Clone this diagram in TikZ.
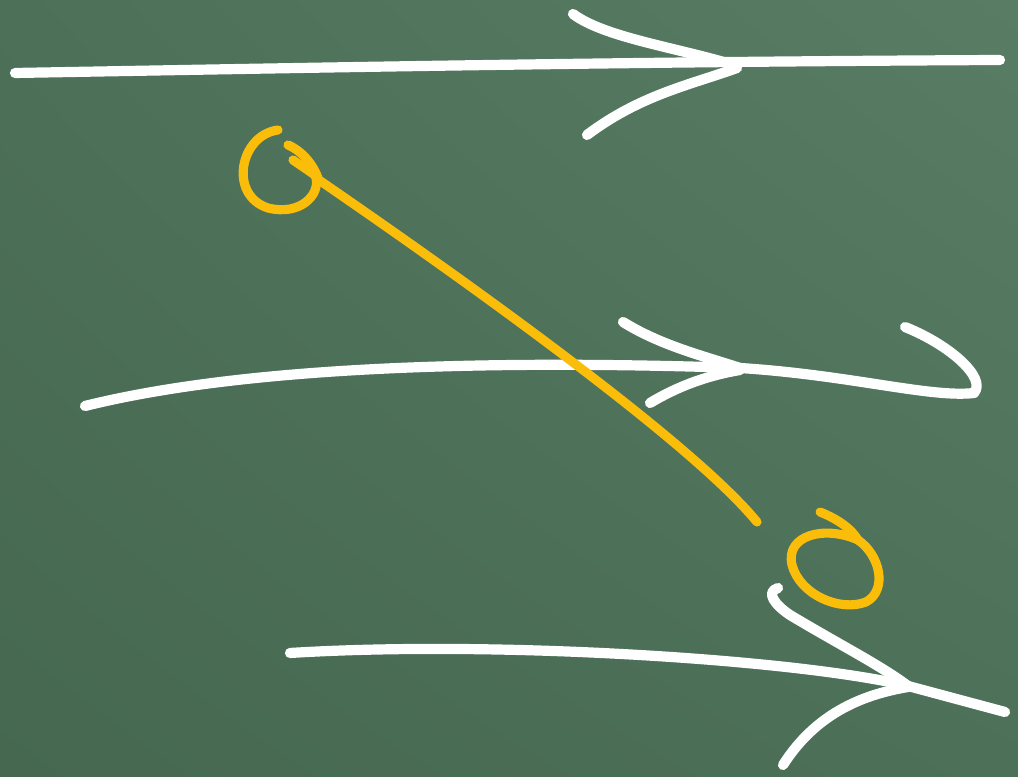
\documentclass[tikz,border=0pt]{standalone}
\usepackage{xcolor}
\usepackage{tikz}
\usetikzlibrary{shadings}
\definecolor{boarddark}{RGB}{70,104,80}
\definecolor{boardlight}{RGB}{88,124,100}
\definecolor{boardmid}{RGB}{77,112,88}
\definecolor{chalkyellow}{RGB}{250,190,10}

\begin{document}
\begin{tikzpicture}[
    x=0.01cm, y=-0.01cm,
    chalk/.style={draw=white, line width=2.9pt, line cap=round, line join=round},
    crayon/.style={draw=chalkyellow, line width=2.6pt, line cap=round, line join=round},
]

% board
\shade[upper left=boardmid, upper right=boardlight, lower left=boarddark, lower right=boardmid]
    (0,0) rectangle (1018,777);
\useasboundingbox (0,0) rectangle (1018,777);

% top arrow
\draw[chalk] (15,73) .. controls (300,68) and (600,62) .. (1000,60);
\draw[chalk] (573,14) .. controls (605,38) and (680,48) .. (737,66);
\draw[chalk] (587,135) .. controls (640,95) and (690,85) .. (737,68);

% middle arrow with hook
\draw[chalk] (85,406) .. controls (250,365) and (500,360) .. (740,368)
    .. controls (850,375) and (930,398) .. (974,393)
    .. controls (987,378) and (950,345) .. (905,327);
\draw[chalk] (623,322) .. controls (660,345) and (700,355) .. (740,368);
\draw[chalk] (650,403) .. controls (680,385) and (710,375) .. (740,370);

% bottom arrow
\draw[chalk] (290,653) .. controls (500,640) and (800,660) .. (908,686)
    -- (1005,712);
\draw[chalk] (778,588) .. controls (765,592) and (775,605) .. (790,615)
    .. controls (840,645) and (880,665) .. (908,686);
\draw[chalk] (783,765) .. controls (815,715) and (860,695) .. (908,687);

% first yellow loop and line
\draw[crayon] (278,130) .. controls (240,135) and (228,195) .. (268,208)
    .. controls (300,216) and (320,195) .. (316,178);
\draw[crayon] (288,145) .. controls (300,150) and (312,162) .. (318,178);
\draw[crayon] (293,160) .. controls (300,165) and (308,170) .. (316,176);
\draw[crayon] (316,178) .. controls (450,270) and (690,440) .. (757,522);

% second yellow loop
\draw[crayon] (820,512) .. controls (840,520) and (852,530) .. (858,540);
\draw[crayon] (858,540) .. controls (825,525) and (785,535) .. (792,565)
    .. controls (800,595) and (840,612) .. (866,602)
    .. controls (888,590) and (880,555) .. (858,540);

\end{tikzpicture}
\end{document}
